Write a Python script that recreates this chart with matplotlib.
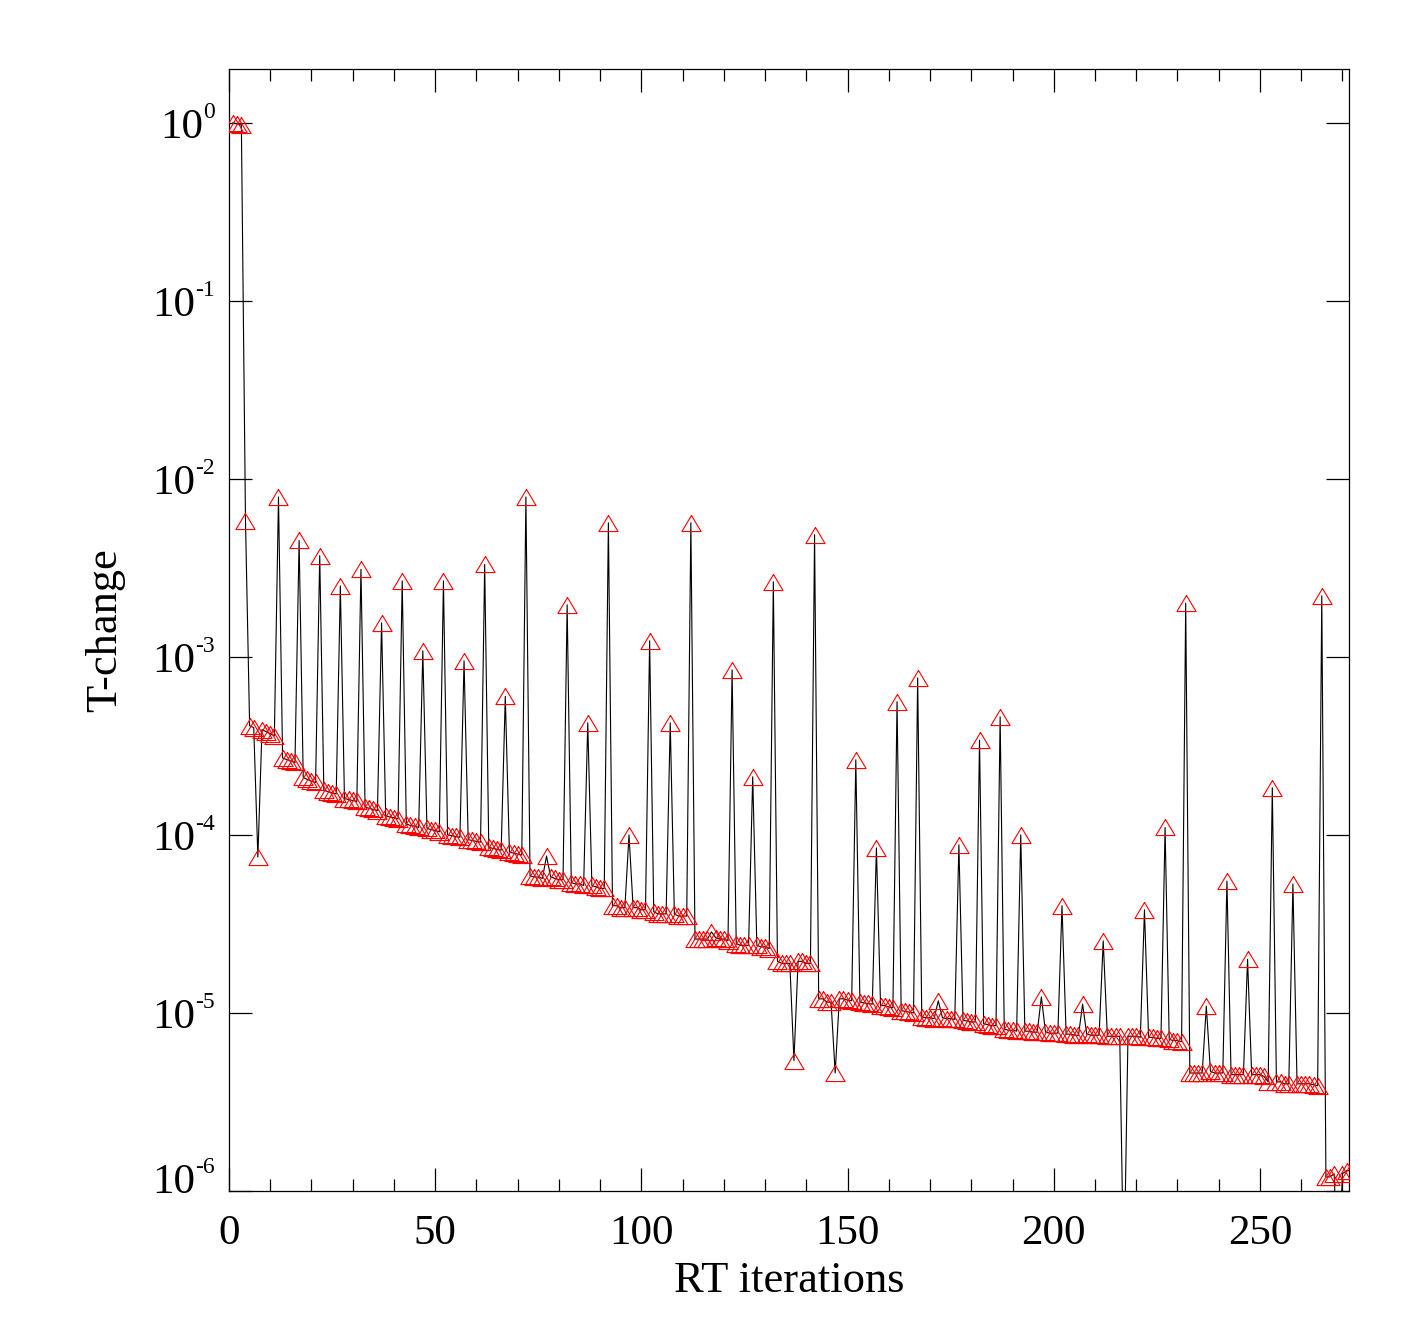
import matplotlib
matplotlib.use("Agg")
import matplotlib.pyplot as plt
from matplotlib.ticker import FixedLocator, MultipleLocator, NullFormatter, NullLocator
import numpy as np

# ---------------- data ----------------
iterations = list(range(1, 273))

t_change = [
    1.00, 0.98, 0.97, 5.8e-3, 4.1e-4, 4.0e-4, 7.5e-5, 3.9e-4, 3.8e-4, 3.7e-4,     # 1-10
    3.6e-4, 7.9e-3, 2.7e-4, 2.65e-4, 2.6e-4, 2.55e-4, 4.5e-3, 2.1e-4, 2.05e-4, 2.0e-4,  # 11-20
    1.97e-4, 3.7e-3, 1.78e-4, 1.75e-4, 1.72e-4, 1.7e-4, 2.5e-3, 1.6e-4, 1.58e-4, 1.56e-4,  # 21-30
    1.54e-4, 3.1e-3, 1.43e-4, 1.41e-4, 1.39e-4, 1.37e-4, 1.55e-3, 1.28e-4, 1.26e-4, 1.25e-4,  # 31-40
    1.23e-4, 2.67e-3, 1.15e-4, 1.13e-4, 1.12e-4, 1.1e-4, 1.08e-3, 1.09e-4, 1.07e-4, 1.06e-4,  # 41-50
    1.04e-4, 2.67e-3, 1.0e-4, 9.9e-5, 9.8e-5, 9.7e-5, 9.5e-4, 9.4e-5, 9.3e-5, 9.2e-5,  # 51-60
    9.1e-5, 3.3e-3, 8.5e-5, 8.4e-5, 8.3e-5, 8.2e-5, 6.0e-4, 8.0e-5, 7.9e-5, 7.8e-5,  # 61-70
    7.7e-5, 7.9e-3, 5.9e-5, 5.8e-5, 5.8e-5, 5.7e-5, 7.6e-5, 5.8e-5, 5.7e-5, 5.6e-5,  # 71-80
    5.6e-5, 1.96e-3, 5.4e-5, 5.3e-5, 5.3e-5, 5.2e-5, 4.26e-4, 5.2e-5, 5.1e-5, 5.0e-5,  # 81-90
    5.0e-5, 5.66e-3, 4.0e-5, 4.0e-5, 3.9e-5, 3.9e-5, 1.0e-4, 3.9e-5, 3.9e-5, 3.8e-5,  # 91-100
    3.8e-5, 1.23e-3, 3.7e-5, 3.6e-5, 3.6e-5, 3.6e-5, 4.26e-4, 3.6e-5, 3.5e-5, 3.5e-5,  # 101-110
    3.5e-5, 5.66e-3, 2.6e-5, 2.6e-5, 2.6e-5, 2.6e-5, 2.85e-5, 2.65e-5, 2.6e-5, 2.6e-5,  # 111-120
    2.55e-5, 8.45e-4, 2.45e-5, 2.4e-5, 2.4e-5, 2.4e-5, 2.12e-4, 2.4e-5, 2.35e-5, 2.35e-5,  # 121-130
    2.3e-5, 2.64e-3, 1.95e-5, 1.9e-5, 1.9e-5, 1.9e-5, 5.4e-6, 1.95e-5, 1.95e-5, 1.9e-5,  # 131-140
    1.9e-5, 4.85e-3, 1.2e-5, 1.2e-5, 1.15e-5, 1.15e-5, 4.6e-6, 1.2e-5, 1.2e-5, 1.18e-5,  # 141-150
    1.17e-5, 2.64e-4, 1.15e-5, 1.14e-5, 1.13e-5, 1.12e-5, 8.45e-5, 1.1e-5, 1.1e-5, 1.08e-5,  # 151-160
    1.07e-5, 5.6e-4, 1.03e-5, 1.02e-5, 1.01e-5, 1.0e-5, 7.6e-4, 9.5e-6, 9.4e-6, 9.4e-6,  # 161-170
    9.3e-6, 1.17e-5, 9.4e-6, 9.3e-6, 9.3e-6, 9.2e-6, 8.8e-5, 9.1e-6, 9.0e-6, 8.9e-6,  # 171-180
    8.9e-6, 3.4e-4, 8.7e-6, 8.6e-6, 8.5e-6, 8.5e-6, 4.6e-4, 8.1e-6, 8.0e-6, 8.0e-6,  # 181-190
    7.9e-6, 1.0e-4, 7.9e-6, 7.9e-6, 7.8e-6, 7.8e-6, 1.23e-5, 7.8e-6, 7.7e-6, 7.7e-6,  # 191-200
    7.7e-6, 4.0e-5, 7.6e-6, 7.6e-6, 7.5e-6, 7.5e-6, 1.12e-5, 7.6e-6, 7.5e-6, 7.5e-6,  # 201-210
    7.5e-6, 2.54e-5, 7.4e-6, 7.4e-6, 7.4e-6, 7.4e-6, 3.0e-7, 7.4e-6, 7.4e-6, 7.4e-6,  # 211-220
    7.3e-6, 3.8e-5, 7.3e-6, 7.3e-6, 7.2e-6, 7.2e-6, 1.1e-4, 7.1e-6, 7.0e-6, 7.0e-6,  # 221-230
    6.9e-6, 2.0e-3, 4.6e-6, 4.6e-6, 4.6e-6, 4.6e-6, 1.09e-5, 4.7e-6, 4.6e-6, 4.6e-6,  # 231-240
    4.6e-6, 5.5e-5, 4.5e-6, 4.5e-6, 4.5e-6, 4.5e-6, 2.0e-5, 4.5e-6, 4.5e-6, 4.5e-6,  # 241-250
    4.4e-6, 4.1e-6, 1.84e-4, 4.1e-6, 4.1e-6, 4.0e-6, 4.0e-6, 5.3e-5, 4.0e-6, 4.0e-6,  # 251-260
    4.0e-6, 4.0e-6, 3.95e-6, 3.9e-6, 2.2e-3, 1.2e-6, 1.2e-6, 1.25e-6, 3.0e-7, 1.25e-6,  # 261-270
    1.3e-6, 1.3e-6,                                                                   # 271-272
]

y_ticks = [1e-6, 1e-5, 1e-4, 1e-3, 1e-2, 1e-1, 1e0]
x_ticks = [0, 50, 100, 150, 200, 250]
x_label = "RT iterations"
y_label = "T-change"

# ---------------- style ----------------
plt.rcParams["font.family"] = ["Liberation Serif", "DejaVu Serif"]

fig = plt.figure(figsize=(14.17, 13.37), dpi=100)
ax = fig.add_axes([229 / 1417, 1 - 1191 / 1337, (1349 - 229) / 1417, (1191 - 69) / 1337])

ax.plot(iterations, t_change, color="black", lw=0.8, zorder=2)
tri = [(0, 0.84), (-1, -0.84), (1, -0.84), (0, 0.84)]
ax.plot(iterations, t_change, linestyle="none", marker=tri, markersize=13.8,
        markerfacecolor="none", markeredgecolor="red", markeredgewidth=0.8, zorder=3)

ax.set_yscale("log")
ax.set_xlim(0, 271.6)
ax.set_ylim(1e-6, 2.0)

ax.xaxis.set_major_locator(FixedLocator(x_ticks))
ax.xaxis.set_minor_locator(MultipleLocator(10))
ax.yaxis.set_major_locator(FixedLocator(y_ticks))
ax.yaxis.set_minor_locator(NullLocator())
ax.yaxis.set_major_formatter(NullFormatter())

ax.tick_params(which="both", direction="in", top=True, right=True, width=0.9, color="black")
ax.tick_params(which="major", length=16.5)
ax.tick_params(which="minor", length=8.6)
ax.tick_params(axis="x", which="major", labelsize=31, pad=17)
for s in ax.spines.values():
    s.set_linewidth(0.9)

# y tick labels "10" with a small raised exponent (IDL style)
HYPHEN = "\u2010"
renderer = fig.canvas.get_renderer()
for v in y_ticks:
    e = int(round(np.log10(v)))
    es = (HYPHEN + str(-e)) if e < 0 else str(e)
    lift = 13 if v == min(y_ticks) else 0
    t_exp = ax.annotate(es, xy=(0, v), xycoords=("axes fraction", "data"),
                        xytext=(-14, 5 + lift), textcoords="offset pixels",
                        ha="right", va="baseline", fontsize=17, annotation_clip=False)
    w = t_exp.get_window_extent(renderer).width
    ax.annotate("10", xy=(0, v), xycoords=("axes fraction", "data"),
                xytext=(-14 - w, -15 + lift), textcoords="offset pixels",
                ha="right", va="baseline", fontsize=31, annotation_clip=False)

ax.set_xlabel(x_label, fontsize=32, labelpad=6)
ax.set_ylabel(y_label, fontsize=32)
ax.yaxis.set_label_coords(-0.093, 0.5)

fig.savefig("out.png", dpi=100)
